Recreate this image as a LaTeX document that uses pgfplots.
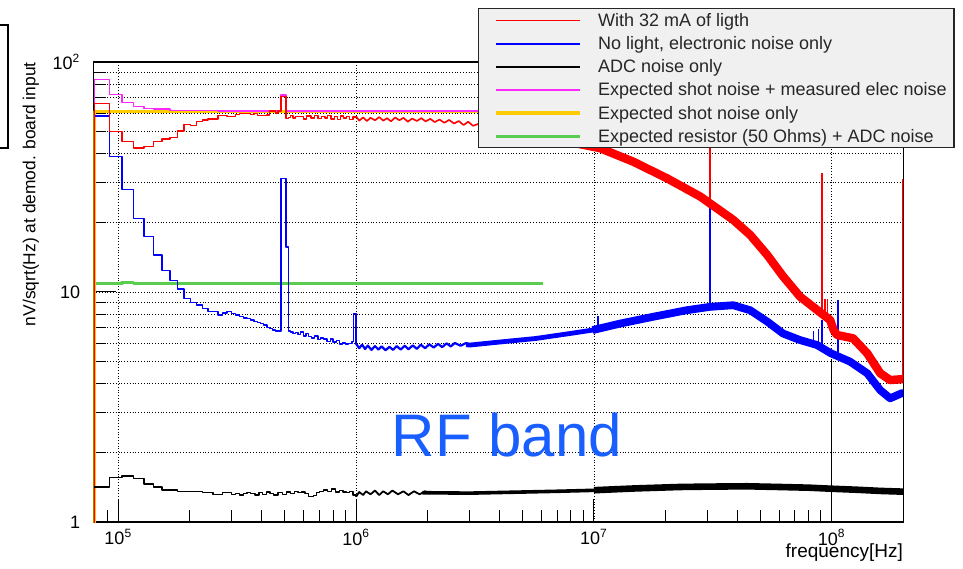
\documentclass[border=0pt]{standalone}
\usepackage{pgfplots}
\pgfplotsset{compat=1.18}
\usepackage{fontspec}
\setmainfont{Liberation Sans}
\definecolor{rred}{RGB}{255,0,0}
\definecolor{rblue}{RGB}{0,0,255}
\definecolor{rmag}{RGB}{250,40,250}
\definecolor{rorange}{RGB}{255,204,0}
\definecolor{rgreen}{RGB}{90,205,80}
\definecolor{rfblue}{RGB}{25,95,255}
\definecolor{leggray}{RGB}{240,240,240}
\begin{document}
\begin{tikzpicture}
\begin{axis}[
  at={(0pt,0pt)}, anchor=south west, scale only axis,
  width=405pt, height=230pt,
  xmode=log, ymode=log,
  xmin=78500, xmax=2e8, ymin=1, ymax=100,
  axis line style={line width=0.6pt},
  tick align=inside, tick pos=left,
  xtick={1e5,1e6,1e7,1e8},
  xticklabels={10\textsuperscript{5},10\textsuperscript{6},10\textsuperscript{7},10\textsuperscript{8}},
  minor xtick={8e4,9e4,2e5,3e5,4e5,5e5,6e5,7e5,8e5,9e5,2e6,3e6,4e6,5e6,6e6,7e6,8e6,9e6,2e7,3e7,4e7,5e7,6e7,7e7,8e7,9e7},
  ytick={1,10,100},
  yticklabels={1,10,10\textsuperscript{2}},
  minor ytick={2,3,4,5,6,7,8,9,20,30,40,50,60,70,80,90},
  major tick length=11.5pt, minor tick length=6pt,
  tick style={black, line width=0.5pt},
  xmajorgrids, ymajorgrids, yminorgrids,
  major grid style={densely dotted, black, line width=0.45pt},
  minor grid style={densely dotted, black, line width=0.45pt},
  tick label style={font=\fontsize{9}{10}\selectfont},
  yticklabel style={xshift=-3pt},
  line join=round,
]
% Expected shot noise only
\addplot[rorange, line width=1.7pt, const plot] coordinates {(79346,0.5)(79346,60.8)(6.08e6,60.8)};
% Expected shot + measured elec
\addplot[rmag, line width=0.7pt, const plot] coordinates {
(79346,0.5)(79346,84.1)(91553,72.4)(103760,66.5)(115967,63.9)(128174,62.9)(140381,62.4)(164795,61.6)(262451,61.3)
(482177,71.9)(506591,61.3)(6.08e6,61.3)};
% Expected resistor + ADC
\addplot[rgreen, line width=1.7pt, const plot] coordinates {(80400,10.9)(103760,11.0)(115967,10.9)(6.08e6,10.9)};
% No light (thin part)
\addplot[rblue, line width=0.7pt, const plot] coordinates {
(79346,58.2)(91553,38.8)(103760,27.96)(115967,20.9)(128174,17.4)(140381,14.5)(152588,12.4)(164795,11.2)(177002,10.3)
(189209,9.39)(201416,8.98)(213623,8.78)(225830,8.5)(238037,8.21)(250244,8.21)(262451,7.94)(274658,8.1)(286865,8.25)
(299072,8.08)(311279,7.95)(323486,7.81)(335693,7.72)(347900,7.68)(360107,7.55)(372314,7.45)(384521,7.36)(396728,7.30)
(408935,7.18)(421142,7.0)(433349,6.95)(445556,6.85)(457763,6.76)(469970,6.76)(482177,31.2)(494384,31.2)(506591,15.7)
(518798,6.76)(531005,6.7)(543212,6.6)(5.55e5,6.65)(5.7e5,6.55)(5.85e5,6.70)(6.0e5,6.45)(6.15e5,6.60)(6.3e5,6.40)
(6.5e5,6.30)(6.7e5,6.45)(6.9e5,6.20)(7.1e5,6.30)(7.3e5,6.25)(7.55e5,6.10)(7.8e5,6.25)(8.0e5,6.05)(8.25e5,6.15)
(8.5e5,5.95)(8.75e5,6.00)(9.0e5,5.95)(9.3e5,5.98)(9.6e5,6.1)(9.76e5,8.08)(1.0e6,5.95)(1.01e6,5.95)};
\addplot[rblue, line width=1.1pt] coordinates {
(1.0e6,5.95)(1.03e6,5.7)(1.06e6,5.9)(1.09e6,5.65)(1.12e6,5.85)(1.16e6,5.6)(1.2e6,5.82)(1.24e6,5.62)(1.28e6,5.8)
(1.33e6,5.58)(1.38e6,5.78)(1.43e6,5.6)(1.48e6,5.82)(1.54e6,5.62)(1.6e6,5.84)(1.66e6,5.64)(1.73e6,5.86)(1.8e6,5.66)
(1.87e6,5.9)(1.95e6,5.7)(2.03e6,5.92)(2.12e6,5.74)(2.21e6,5.95)(2.3e6,5.76)(2.4e6,5.98)(2.5e6,5.8)(2.6e6,6.0)
(2.75e6,5.84)(2.9e6,6.0)(3.05e6,5.86)};
\addplot[rblue, line width=2.4pt] coordinates {
(2.9e6,5.9)(3.01e6,5.88)(4.14e6,6.08)(5.7e6,6.28)(7.93e6,6.6)(9.87e6,6.83)(1.1e7,6.95)};
\addplot[rblue, line width=3.9pt] coordinates {
(9.87e6,6.83)(1.288e7,7.29)(1.77e7,7.8)(2.45e7,8.33)(3.08e7,8.62)(3.85e7,8.76)(4.54e7,8.33)(5.35e7,7.44)(6.24e7,6.6)
(7.36e7,6.18)(8.68e7,5.88)(9.9e7,5.42)(1.194e8,4.98)(1.41e8,4.43)(1.6e8,3.74)(1.76e8,3.45)(1.97e8,3.63)(2e8,3.63)};
\addplot[rblue, line width=0.7pt] coordinates {(1.04e7,6.8)(1.04e7,7.9)};
\addplot[rblue, line width=0.7pt] coordinates {(3.08e7,8.6)(3.08e7,30)};
\addplot[rblue, line width=0.7pt] coordinates {(8.4e7,5.9)(8.4e7,6.8)};
\addplot[rblue, line width=0.7pt] coordinates {(8.8e7,5.8)(8.8e7,6.9)};
\addplot[rblue, line width=0.7pt] coordinates {(9.11e7,5.7)(9.11e7,7.55)};
\addplot[rblue, line width=0.7pt] coordinates {(1.064e8,5.3)(1.064e8,9.2)};
% With 32 mA (thin part)
\addplot[rred, line width=0.7pt, const plot] coordinates {
(79346,0.5)(79346,66.1)(91553,49.8)(103760,45.0)(115967,42.2)(128174,42.8)(140381,45.0)(152588,46.3)(164795,47.1)
(177002,50.1)(189209,53.6)(201416,53.1)(213623,55.2)(225830,56.0)(238037,56.5)(250244,56.5)(262451,58.6)(274658,58.6)
(286865,57.8)(299072,57.8)(311279,59.0)(323486,59.8)(335693,59.8)(347900,59.8)(360107,59.0)(372314,59.8)(384521,58.6)
(396728,58.6)(408935,58.6)(421142,58.8)(433349,61.3)(445556,61.3)(457763,60.0)(469970,61.3)(482177,70.9)(494384,70.9)
(506591,56.9)(518798,57.5)(531005,58.6)(543212,57.2)(555419,58.0)(5.7e5,58.0)(6.0e5,56.5)(6.2e5,58.2)(6.45e5,57.0)
(6.7e5,58.6)(6.9e5,56.8)(7.15e5,58.0)(7.4e5,57.2)(7.6e5,58.4)(7.85e5,56.6)(8.1e5,57.8)(8.35e5,56.2)(8.6e5,58.2)
(8.85e5,57.0)(9.1e5,57.9)(9.4e5,56.4)(9.7e5,57.6)(1.0e6,58.0)(1.01e6,58.0)};
\addplot[rred, line width=0.8pt] coordinates {
(1.0e6,58.0)(1.03e6,55.6)(1.07e6,57.4)(1.11e6,55.4)(1.15e6,57.2)(1.2e6,55.8)(1.25e6,57.6)(1.3e6,55.6)(1.35e6,57.0)
(1.4e6,55.2)(1.46e6,57.4)(1.52e6,55.8)(1.58e6,57.2)(1.65e6,55.0)(1.72e6,56.8)(1.8e6,55.4)(1.88e6,57.0)(1.96e6,55.2)
(2.05e6,56.6)(2.14e6,54.8)(2.24e6,56.2)(2.35e6,54.4)(2.46e6,56.0)(2.58e6,54.0)(2.7e6,55.4)(2.83e6,53.2)(2.96e6,55.0)
(3.1e6,52.8)(3.3e6,54.0)(3.5e6,52.0)};
\addplot[rred, line width=4.2pt] coordinates {
(3.3e6,54)(5e6,50)(7e6,46)(1.06e7,42.2)(1.46e7,36.9)(2.03e7,31.2)(2.8e7,26.0)(3.85e7,20.6)(4.54e7,17.7)(5.35e7,14.5)
(6.24e7,11.7)(7.36e7,9.54)(8.68e7,8.35)(9.85e7,7.55)(1.02e8,6.8)(1.054e8,6.5)(1.23e8,6.29)(1.41e8,5.41)(1.6e8,4.43)
(1.76e8,4.14)(1.97e8,4.18)(2e8,4.18)};
\addplot[rred, line width=0.7pt] coordinates {(3.08e7,24)(3.08e7,90)};
\addplot[rred, line width=0.7pt] coordinates {(9.11e7,8.0)(9.11e7,33)};
\addplot[rred, line width=0.7pt] coordinates {(9.35e7,7.8)(9.35e7,9.3)};
\addplot[rred, line width=0.7pt] coordinates {(9.6e7,7.6)(9.6e7,9.3)};
\addplot[rred, line width=0.9pt] coordinates {(1.993e8,4.2)(1.993e8,31)};
% ADC noise only
\addplot[black, line width=0.7pt, const plot] coordinates {
(79346,1.42)(91553,1.565)(103760,1.585)(115967,1.55)(128174,1.463)(140381,1.42)(152588,1.378)(164795,1.378)
(177002,1.354)(189209,1.354)(201416,1.36)(213623,1.36)(225830,1.34)(238037,1.34)(250244,1.32)(262451,1.32)
(274658,1.34)(286865,1.34)(299072,1.32)(311279,1.33)(323486,1.31)(335693,1.33)(347900,1.34)(3.6e5,1.33)(3.75e5,1.31)
(3.9e5,1.34)(4.05e5,1.32)(4.2e5,1.35)(4.35e5,1.33)(4.5e5,1.31)(4.7e5,1.34)(4.9e5,1.32)(5.1e5,1.35)(5.3e5,1.33)
(5.5e5,1.36)(5.7e5,1.34)(5.9e5,1.35)(6.1e5,1.33)(6.3e5,1.29)(6.6e5,1.30)(6.8e5,1.34)(7.0e5,1.36)(7.3e5,1.38)
(7.6e5,1.36)(7.9e5,1.39)(8.2e5,1.35)(8.5e5,1.37)(8.8e5,1.35)(9.1e5,1.34)(9.4e5,1.36)(9.7e5,1.31)(1.0e6,1.29)
(1.01e6,1.29)};
\addplot[black, line width=0.9pt] coordinates {
(1.0e6,1.29)(1.03e6,1.35)(1.07e6,1.31)(1.1e6,1.36)(1.15e6,1.32)(1.2e6,1.37)(1.25e6,1.31)(1.3e6,1.36)(1.36e6,1.32)
(1.42e6,1.37)(1.5e6,1.32)(1.58e6,1.36)(1.66e6,1.31)(1.75e6,1.36)(1.85e6,1.32)(1.95e6,1.36)(2.05e6,1.33)};
\addplot[black, line width=1.8pt] coordinates {
(1.9e6,1.34)(2e6,1.34)(3e6,1.335)(5e6,1.35)(7e6,1.36)(1.05e7,1.375)};
\addplot[black, line width=3.3pt] coordinates {
(1e7,1.375)(1.5e7,1.40)(2.3e7,1.42)(3e7,1.425)(4.4e7,1.43)(6e7,1.42)(8e7,1.41)(1e8,1.395)(1.3e8,1.38)(1.6e8,1.365)(2e8,1.355)};
\addplot[black, line width=0.7pt] coordinates {(1e8,0.5)(1e8,5.06)};
\end{axis}
% legend
\fill[leggray, draw=black!85, line width=0.6pt] (192.5pt,187.15pt) rectangle (430.35pt,256.85pt);
\draw[rred, line width=0.8pt] (201.35pt,250.65pt) -- (243.35pt,250.65pt);
\draw[rblue, line width=0.8pt] (201.35pt,239.1pt) -- (243.35pt,239.1pt);
\draw[black, line width=0.7pt] (201.35pt,227.55pt) -- (243.35pt,227.55pt);
\draw[rmag, line width=0.8pt] (201.35pt,216pt) -- (243.35pt,216pt);
\draw[rorange, line width=1.6pt] (201.35pt,204.45pt) -- (243.35pt,204.45pt);
\draw[rgreen, line width=1.6pt] (201.35pt,192.9pt) -- (243.35pt,192.9pt);
\begin{scope}[every node/.style={anchor=base west, inner sep=0pt, font=\fontsize{9}{10}\selectfont, text=black!85}]
\node at (252.2pt,247.65pt) {With 32 mA of ligth};
\node at (252.2pt,236.1pt) {No light, electronic noise only};
\node at (252.2pt,224.55pt) {ADC noise only};
\node at (252.2pt,213pt) {Expected shot noise + measured elec noise};
\node at (252.2pt,201.45pt) {Expected shot noise only};
\node at (252.2pt,189.9pt) {Expected resistor (50 Ohms) + ADC noise};
\end{scope}
% axis titles
\node[rotate=90, anchor=east, inner sep=0pt, font=\fontsize{8.7}{10}\selectfont] at (-31.2pt,230pt) {nV/sqrt(Hz) at demod. board input};
\node[anchor=east, inner sep=0pt, font=\fontsize{9.5}{11}\selectfont] at (405pt,-15.5pt) {frequency[Hz]};
% RF band
\node[text=rfblue, inner sep=0pt, font=\fontsize{30}{36}\selectfont] at (206.85pt,43.5pt) {RF band};
% partial frame at the top left
\draw[line width=0.6pt] (-46.65pt,248.5pt) -- (-42.65pt,248.5pt) -- (-42.65pt,187pt) -- (-46.65pt,187pt);
\pgfresetboundingbox
\path (-46.65pt,-23pt) rectangle (434.85pt,261pt);
\end{tikzpicture}
\end{document}
